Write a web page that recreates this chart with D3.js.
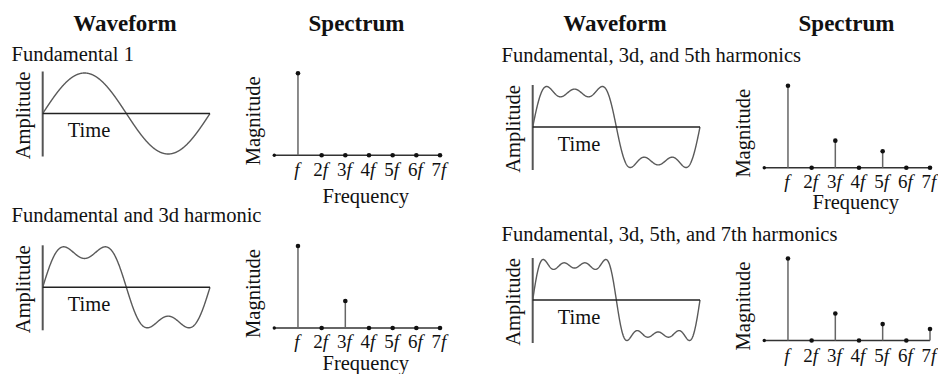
<!DOCTYPE html>
<html>
<head>
<meta charset="utf-8">
<script src="https://cdn.jsdelivr.net/npm/d3@7"></script>
<style>
  html, body { margin: 0; padding: 0; background: #fff; }
  svg { display: block; font-family: "Liberation Serif", "Times New Roman", Times, serif; }
</style>
</head>
<body>
<svg id="chart" width="938" height="374"></svg>
<script>
// Column headings and panel titles
const columnHeaders = ["Waveform", "Spectrum"];
const panelTitles = [
  "Fundamental 1",
  "Fundamental and 3d harmonic",
  "Fundamental, 3d, and 5th harmonics",
  "Fundamental, 3d, 5th, and 7th harmonics"
];

// Harmonic numbers and their tick labels (number part upright, f italic)
const harmonics = [1, 2, 3, 4, 5, 6, 7];
const harmonicLabels = ["f", "2f", "3f", "4f", "5f", "6f", "7f"];

// Relative magnitude of each harmonic (f .. 7f) for the four panels
const magnitudes1 = [1, 0, 0, 0, 0, 0, 0];
const magnitudes2 = [1, 0, 0.33, 0, 0, 0, 0];
const magnitudes3 = [1, 0, 0.33, 0, 0.2, 0, 0];
const magnitudes4 = [1, 0, 0.33, 0, 0.2, 0, 0.14];

// Axis titles
const waveAxisLabels = ["Amplitude", "Time"];
const specAxisLabels = ["Magnitude", "Frequency"];

// Placement of each panel on the page
const layout = [
  { dx: 0,   titleY: 61,    zeroY: 113.5, baseY: 155.3, tickDy: 20.7, freqDy: 48, showFreq: true },
  { dx: 0,   titleY: 221.7, zeroY: 287.3, baseY: 328,   tickDy: 19.5, freqDy: 42, showFreq: true },
  { dx: 490, titleY: 61.7,  zeroY: 127,   baseY: 167.7, tickDy: 20.6, freqDy: 41, showFreq: true },
  { dx: 490, titleY: 240.7, zeroY: 300,   baseY: 340.5, tickDy: 21.5, freqDy: 41, showFreq: false }
];
const magnitudeSets = [magnitudes1, magnitudes2, magnitudes3, magnitudes4];

const svg = d3.select("#chart");
svg.append("rect").attr("width", 938).attr("height", 374).attr("fill", "#fff");

const textColor = "#111";
const fontSize = 20.5;

// Column headings
[0, 490].forEach(dx => {
  svg.append("text")
    .attr("x", 125 + dx).attr("y", 30.5)
    .attr("text-anchor", "middle")
    .attr("font-weight", "bold").attr("font-size", 23)
    .attr("fill", textColor)
    .text(columnHeaders[0]);
  svg.append("text")
    .attr("x", 356.5 + dx).attr("y", 30.5)
    .attr("text-anchor", "middle")
    .attr("font-weight", "bold").attr("font-size", 23)
    .attr("fill", textColor)
    .text(columnHeaders[1]);
});

// Fourier synthesis of the waveform from the harmonic magnitudes
function synthesize(mags, t) {
  return d3.sum(mags, (m, i) => m * Math.sin(harmonics[i] * t));
}

layout.forEach((p, idx) => {
  const mags = magnitudeSets[idx];
  const g = svg.append("g");

  // Panel title
  g.append("text")
    .attr("x", 11.5 + p.dx).attr("y", p.titleY)
    .attr("font-size", fontSize).attr("fill", textColor)
    .text(panelTitles[idx]);

  // ---------- Waveform ----------
  const x0 = 42.7 + p.dx, x1 = 210 + p.dx;
  const tScale = d3.scaleLinear().domain([0, 2 * Math.PI]).range([x0, x1]);
  const times = d3.range(0, 601).map(i => (i / 600) * 2 * Math.PI);
  const wave = times.map(t => ({ t, v: synthesize(mags, t) }));
  const peak = d3.max(wave, d => Math.abs(d.v));
  const aScale = d3.scaleLinear().domain([-peak, peak]).range([p.zeroY + 40.5, p.zeroY - 40.5]);

  // Amplitude axis
  g.append("line")
    .attr("x1", x0).attr("x2", x0)
    .attr("y1", p.zeroY - 42).attr("y2", p.zeroY + 43)
    .attr("stroke", "#555").attr("stroke-width", 2);

  // Waveform curve
  g.append("path")
    .datum(wave)
    .attr("fill", "none")
    .attr("stroke", "#5a5a5a")
    .attr("stroke-width", 1.4)
    .attr("d", d3.line().x(d => tScale(d.t)).y(d => aScale(d.v)));

  // Time axis
  g.append("line")
    .attr("x1", x0).attr("x2", x1)
    .attr("y1", aScale(0)).attr("y2", aScale(0))
    .attr("stroke", "#222").attr("stroke-width", 1.5);

  g.append("text")
    .attr("transform", `translate(${x0 - 12.5},${p.zeroY + 2}) rotate(-90)`)
    .attr("text-anchor", "middle")
    .attr("font-size", fontSize).attr("fill", textColor)
    .text(waveAxisLabels[0]);

  g.append("text")
    .attr("x", x0 + 25).attr("y", p.zeroY + 23.5)
    .attr("font-size", fontSize).attr("fill", textColor)
    .text(waveAxisLabels[1]);

  // ---------- Spectrum ----------
  const fScale = d3.scaleLinear().domain([0, 7]).range([274.3 + p.dx, 440 + p.dx]);
  const mScale = d3.scaleLinear().domain([0, 1]).range([p.baseY, p.baseY - 82]);

  g.append("line")
    .attr("x1", fScale(0)).attr("x2", fScale(7))
    .attr("y1", mScale(0)).attr("y2", mScale(0))
    .attr("stroke", "#333").attr("stroke-width", 1.5);

  g.append("circle")
    .attr("cx", fScale(0)).attr("cy", mScale(0)).attr("r", 1.7)
    .attr("fill", "#111");

  const bins = harmonics.map((h, i) => ({ h, m: mags[i], label: harmonicLabels[i] }));

  g.selectAll(".stem")
    .data(bins.filter(d => d.m > 0))
    .join("line")
    .attr("class", "stem")
    .attr("x1", d => fScale(d.h)).attr("x2", d => fScale(d.h))
    .attr("y1", mScale(0)).attr("y2", d => mScale(d.m))
    .attr("stroke", "#666").attr("stroke-width", 1.5);

  g.selectAll(".tip")
    .data(bins)
    .join("circle")
    .attr("class", "tip")
    .attr("cx", d => fScale(d.h)).attr("cy", d => mScale(d.m))
    .attr("r", 2.3)
    .attr("fill", "#111");

  const ticks = g.selectAll(".tick-label")
    .data(bins)
    .join("text")
    .attr("class", "tick-label")
    .attr("x", d => fScale(d.h) - 1)
    .attr("y", p.baseY + p.tickDy)
    .attr("text-anchor", "middle")
    .attr("font-size", 19).attr("fill", textColor);
  ticks.append("tspan").text(d => d.label.slice(0, -1));
  ticks.append("tspan").attr("font-style", "italic").text(d => d.label.slice(-1));

  g.append("text")
    .attr("transform", `translate(${fScale(0) - 14},${p.baseY - 34.5}) rotate(-90)`)
    .attr("text-anchor", "middle")
    .attr("font-size", fontSize).attr("fill", textColor)
    .text(specAxisLabels[0]);

  if (p.showFreq) {
    g.append("text")
      .attr("x", fScale(0) + 91.5).attr("y", p.baseY + p.freqDy)
      .attr("text-anchor", "middle")
      .attr("font-size", fontSize).attr("fill", textColor)
      .text(specAxisLabels[1]);
  }
});
</script>
</body>
</html>
